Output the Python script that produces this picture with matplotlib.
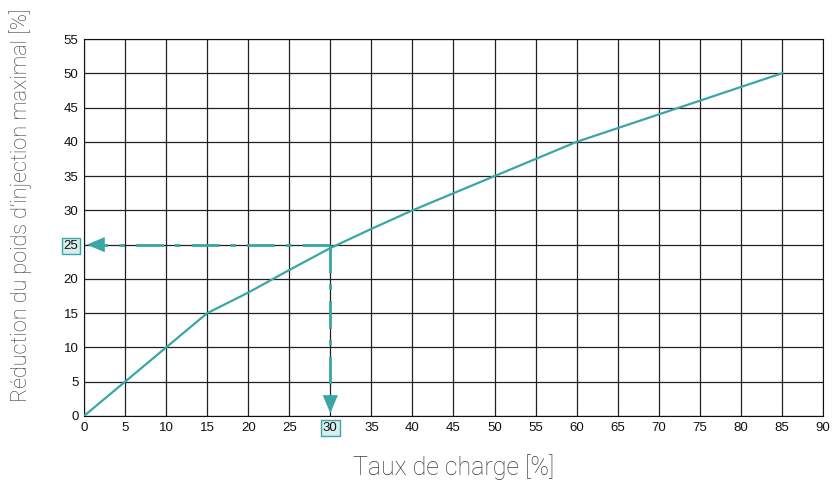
import numpy as np
import matplotlib.pyplot as plt

# load rate vs max injection weight reduction
taux = [0, 10, 15, 20, 25, 30, 35, 40, 50, 60, 85]
reduction = [0, 10, 15, 18, 21.3, 24.5, 27.3, 30, 35, 40, 50]
xticks = list(range(0, 95, 5))
yticks = list(range(0, 60, 5))
read_x = 30
read_y = 25

teal = '#3aa6a6'
box = dict(boxstyle='square,pad=0.15', fc='#d6eeee', ec=teal, lw=1)

plt.rcParams['font.family'] = ['Liberation Sans', 'DejaVu Sans']
fig = plt.figure(figsize=(8.33, 4.84), dpi=100)
ax = fig.add_axes([0.1008, 0.1405, 0.8872, 0.7789])

ax.plot(taux, reduction, color=teal, lw=1.6, zorder=3)

# reading guides
dash = (0, (10, 4, 2, 4))
ax.plot([read_x, 1.5], [read_y, read_y], color=teal, lw=2, ls=dash, zorder=3)
ax.plot([read_x, read_x], [read_y, 2], color=teal, lw=2, ls=dash, zorder=3)
head = dict(arrowstyle='-|>,head_length=1.3,head_width=0.55', color=teal, lw=0)
ax.annotate('', xy=(0, read_y), xytext=(3, read_y), arrowprops=head, zorder=4)
ax.annotate('', xy=(read_x, 0), xytext=(read_x, 4), arrowprops=head, zorder=4)

ax.set_xlim(0, 90)
ax.set_ylim(0, 55)
ax.set_xticks(xticks)
ax.set_yticks(yticks)
ax.grid(True, color='#222222', lw=0.9)
ax.tick_params(length=0, labelsize=9.5, pad=4, colors='#111111')
for s in ax.spines.values():
    s.set_color('#111111')

for lab in ax.get_xticklabels():
    if lab.get_text() == str(read_x):
        lab.set_bbox(box)
for lab in ax.get_yticklabels():
    if lab.get_text() == str(read_y):
        lab.set_bbox(box)

ax.set_xlabel('Taux de charge [%]', fontsize=18, color='#3a3a3a', labelpad=15,
              family=['Roboto', 'DejaVu Sans'], fontweight='light')
ax.set_ylabel('Réduction du poids d\u2019injection maximal [%]', fontsize=15.6, color='#3a3a3a',
              family=['Roboto', 'DejaVu Sans'], fontweight='light')
ax.yaxis.set_label_coords(-0.07, 0.56)

fig.savefig('out.png', dpi=100)
